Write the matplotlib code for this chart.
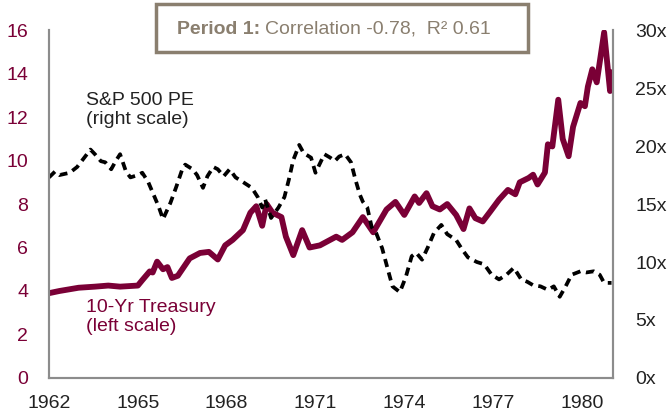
import matplotlib
matplotlib.use("Agg")
import matplotlib.pyplot as plt
from matplotlib.patches import Rectangle

plt.rcParams['font.family'] = ['Liberation Sans', 'DejaVu Sans']

# 10-Yr Treasury yield (left scale)
tsy_year = [1962.0, 1962.35, 1963.0, 1963.55, 1964.0, 1964.4, 1965.0, 1965.15,
            1965.4, 1965.5, 1965.65, 1965.85, 1966.0, 1966.15, 1966.35, 1966.6,
            1966.75, 1967.1, 1967.4, 1967.7, 1967.95, 1968.2, 1968.55, 1968.8,
            1969.0, 1969.2, 1969.35, 1969.55, 1969.85, 1970.0, 1970.25, 1970.55,
            1970.8, 1971.15, 1971.7, 1971.9, 1972.25, 1972.6, 1972.95, 1973.4,
            1973.7, 1974.0, 1974.35, 1974.5, 1974.75, 1974.95, 1975.2, 1975.45,
            1975.75, 1976.0, 1976.2, 1976.4, 1976.65, 1976.9, 1977.2, 1977.5,
            1977.75, 1977.9, 1978.2, 1978.35, 1978.5, 1978.75, 1978.85, 1979.0,
            1979.2, 1979.35, 1979.55, 1979.7, 1979.95, 1980.1, 1980.2, 1980.35,
            1980.5, 1980.75, 1980.95, 1981.05]
tsy_val = [3.9, 4.0, 4.15, 4.2, 4.25, 4.2, 4.25, 4.5,
           4.9, 4.85, 5.35, 5.0, 5.1, 4.6, 4.7, 5.2,
           5.5, 5.75, 5.8, 5.45, 6.1, 6.35, 6.8, 7.6,
           7.9, 7.0, 8.0, 7.6, 7.4, 6.5, 5.65, 6.8,
           6.0, 6.1, 6.5, 6.35, 6.7, 7.4, 6.7, 7.75,
           8.1, 7.5, 8.35, 8.05, 8.5, 7.9, 7.75, 8.0,
           7.5, 6.85, 7.8, 7.35, 7.2, 7.65, 8.2, 8.65,
           8.45, 9.0, 9.2, 9.35, 8.9, 9.45, 10.75, 10.65,
           12.8, 11.0, 10.2, 11.55, 12.65, 12.5, 13.4, 14.2,
           13.6, 15.9, 13.2, 14.05]

# S&P 500 PE (right scale)
pe_year = [1962.0, 1962.2, 1962.35, 1962.7, 1962.95, 1963.1, 1963.4, 1963.55,
           1963.75, 1963.9, 1964.1, 1964.25, 1964.4, 1964.6, 1964.75, 1965.0,
           1965.15, 1965.35, 1965.5, 1965.7, 1965.85, 1966.1, 1966.3, 1966.5,
           1966.6, 1966.85, 1967.0, 1967.2, 1967.35, 1967.55, 1967.7, 1967.9,
           1968.1, 1968.3, 1968.55, 1968.85, 1969.05, 1969.2, 1969.3, 1969.5,
           1969.75, 1969.95, 1970.1, 1970.25, 1970.45, 1970.6, 1970.85, 1971.0,
           1971.3, 1971.5, 1971.65, 1971.8, 1972.0, 1972.2, 1972.35, 1972.5,
           1972.6, 1972.75, 1972.9, 1973.05, 1973.25, 1973.45, 1973.6, 1973.85,
           1974.05, 1974.25, 1974.4, 1974.6, 1974.8, 1975.0, 1975.25, 1975.45,
           1975.75, 1975.95, 1976.15, 1976.45, 1976.7, 1976.95, 1977.2, 1977.45,
           1977.7, 1977.95, 1978.15, 1978.35, 1978.6, 1978.85, 1979.05, 1979.25,
           1979.45, 1979.65, 1979.95, 1980.15, 1980.4, 1980.6, 1980.75, 1981.0]
pe_val = [17.3, 17.8, 17.5, 17.7, 18.2, 18.7, 19.7, 19.3,
          18.7, 18.6, 18.0, 18.7, 19.3, 17.8, 17.3, 17.5,
          17.7, 16.9, 16.0, 14.8, 13.7, 15.1, 16.5, 18.0,
          18.4, 18.0, 17.5, 16.4, 17.4, 18.2, 18.0, 17.4,
          18.0, 17.3, 16.9, 16.4, 15.6, 14.7, 15.4, 13.8,
          14.7, 15.6, 17.1, 18.8, 20.1, 19.4, 19.0, 17.7,
          19.3, 19.0, 18.7, 19.1, 19.3, 18.6, 17.1, 15.8,
          15.2, 14.7, 13.0, 12.5, 11.2, 9.3, 7.9, 7.4,
          8.7, 10.5, 10.8, 10.2, 11.3, 12.5, 13.2, 12.4,
          11.9, 11.1, 10.4, 10.0, 9.8, 8.9, 8.5, 8.9,
          9.5, 8.5, 8.3, 8.0, 7.9, 7.6, 7.9, 7.0,
          7.9, 8.9, 9.2, 9.1, 9.2, 8.9, 8.2, 8.2]

x_ticks = [1962, 1965, 1968, 1971, 1974, 1977, 1980]
left_ticks = [0, 2, 4, 6, 8, 10, 12, 14, 16]
right_ticks = [0, 5, 10, 15, 20, 25, 30]
right_labels = ['0x', '5x', '10x', '15x', '20x', '25x', '30x']

red = '#7a0036'
grey = '#8c8c8c'
box_col = '#8a7f6f'
fs = 14

fig = plt.figure(figsize=(6.68, 4.19), dpi=100)
ax = fig.add_axes([0.0734, 0.098, 0.8443, 0.83])
ax2 = ax.twinx()

ax.plot(tsy_year, tsy_val, color=red, lw=4.2, solid_joinstyle='round')
ax2.plot(pe_year, pe_val, color='black', lw=2.7, linestyle=(0, (2.2, 1.5)))

ax.set_xlim(1962, 1981.05)
ax.set_ylim(0, 16)
ax2.set_ylim(0, 30)

ax.set_xticks(x_ticks)
ax.set_yticks(left_ticks)
ax2.set_yticks(right_ticks)
ax2.set_yticklabels(right_labels)

ax.tick_params(axis='x', length=0, pad=12, labelsize=fs, labelcolor='#222222')
ax.tick_params(axis='y', length=0, pad=15, labelsize=fs, labelcolor=red)
ax2.tick_params(axis='y', length=0, pad=16, labelsize=fs, labelcolor='#222222')

for a in (ax, ax2):
    a.spines['top'].set_visible(False)
    for s in ('left', 'right', 'bottom'):
        a.spines[s].set_color(grey)
        a.spines[s].set_linewidth(1.5)

ax.text(1963.25, 13.15, 'S&P 500 PE\n(right scale)', fontsize=fs, color='#222222',
        va='top', ha='left', linespacing=1.15)
ax.text(1963.25, 3.65, '10-Yr Treasury\n(left scale)', fontsize=fs, color=red,
        va='top', ha='left', linespacing=1.15)

# title box
fig.patches.append(Rectangle((156 / 668, 1 - 52 / 419), 372 / 668, 48 / 419,
                             transform=fig.transFigure, fill=False,
                             edgecolor=box_col, linewidth=2.5))
t1 = fig.text(177 / 668, 1 - 29 / 419, 'Period 1:', fontsize=fs, fontweight='bold',
              color=box_col, va='center', ha='left')
fig.canvas.draw()
bb = t1.get_window_extent()
fig.text(bb.x1 / 668 + 0.008, 1 - 29 / 419, 'Correlation -0.78,  R\u00b2 0.61',
         fontsize=fs, color=box_col, va='center', ha='left')

fig.savefig('out.png', dpi=100)
